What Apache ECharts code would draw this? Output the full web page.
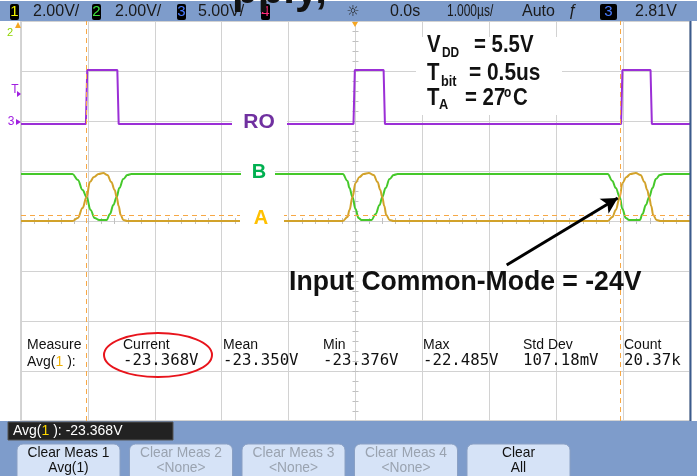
<!DOCTYPE html>
<html>
<head>
<meta charset="utf-8">
<script src="https://cdn.jsdelivr.net/npm/echarts@6/dist/echarts.min.js"></script>
<style>
  html, body { margin: 0; padding: 0; background: #fff; }
  #chart { width: 697px; height: 476px; }
</style>
</head>
<body>
<div id="chart"></div>
<script>
// time in us (0 = trigger / screen centre), level in screen divisions from the centre line
const roPoints = [
  [-5, 1.94], [-4.62, 1.94], [-4.6, 1.98], [-4.58, 1.94], [-4.03, 1.94], [-4.01, 3.02],
  [-3.8, 3.02], [-3.78, 2.98], [-3.75, 3.02], [-3.56, 3.02], [-3.54, 1.94],
  [-2.1, 1.94], [-2.08, 1.98], [-2.06, 1.94], [-0.03, 1.94], [-0.01, 3.02],
  [0.2, 3.02], [0.22, 2.98], [0.24, 3.02], [0.42, 3.02], [0.44, 1.94],
  [2.5, 1.94], [2.52, 1.98], [2.54, 1.94], [3.97, 1.94], [3.99, 3.02],
  [4.41, 3.02], [4.43, 1.94], [5, 1.94]
]
const bPoints = [
  [-5, 0.94], [-4.23, 0.94], [-4.15, 0.82], [-4.08, 0.62], [-4.02, 0.48], [-3.96, 0.22],
  [-3.9, 0.06], [-3.83, 0.02], [-3.72, 0.02], [-3.67, 0.14], [-3.62, 0.32], [-3.57, 0.48],
  [-3.53, 0.66], [-3.47, 0.84], [-3.41, 0.92], [-3.35, 0.94],
  [-0.19, 0.94], [-0.12, 0.8], [-0.09, 0.66], [-0.045, 0.48], [0.0, 0.24], [0.045, 0.06],
  [0.09, 0.02], [0.24, 0.02], [0.3, 0.14], [0.36, 0.32], [0.4, 0.48], [0.45, 0.66],
  [0.51, 0.84], [0.57, 0.92], [0.63, 0.94],
  [3.77, 0.94], [3.84, 0.8], [3.89, 0.66], [3.95, 0.48], [3.99, 0.24], [4.04, 0.06],
  [4.09, 0.02], [4.25, 0.02], [4.29, 0.14], [4.34, 0.32], [4.39, 0.48], [4.44, 0.66],
  [4.49, 0.84], [4.55, 0.92], [4.61, 0.94], [5, 0.94]
]
const aPoints = [
  [-5, 0], [-4.23, 0], [-4.15, 0.06], [-4.08, 0.26], [-4.02, 0.48], [-3.97, 0.78],
  [-3.91, 0.88], [-3.84, 0.94], [-3.77, 0.96], [-3.71, 0.92], [-3.65, 0.78], [-3.6, 0.62],
  [-3.57, 0.48], [-3.54, 0.3], [-3.51, 0.12], [-3.47, 0.02], [-3.41, 0],
  [-0.19, 0], [-0.12, 0.08], [-0.09, 0.22], [-0.045, 0.48], [0.0, 0.76], [0.06, 0.88],
  [0.12, 0.94], [0.2, 0.96], [0.27, 0.92], [0.33, 0.78], [0.37, 0.62], [0.4, 0.48],
  [0.43, 0.3], [0.46, 0.12], [0.51, 0.02], [0.57, 0],
  [3.77, 0], [3.84, 0.08], [3.89, 0.22], [3.95, 0.48], [3.99, 0.76], [4.05, 0.88],
  [4.11, 0.94], [4.19, 0.96], [4.26, 0.92], [4.32, 0.78], [4.36, 0.62], [4.39, 0.48],
  [4.42, 0.3], [4.45, 0.12], [4.5, 0.02], [4.56, 0], [5, 0]
]
const cursorTimes = [-4.02, 3.96]
const cursorLevel = 0.12
const arrowFrom = [2.26, -0.88]
const arrowTo = [3.92, 0.46]

const scaleLabels = ['2.00V/', '2.00V/', '5.00V/']
const timeLabels = ['0.0s', '1.000µs/', 'Auto', '2.81V']
const measNames = ['Current', 'Mean', 'Min', 'Max', 'Std Dev', 'Count']
const measValues = ['-23.368V', '-23.350V', '-23.376V', '-22.485V', '107.18mV', '20.37k']
const buttons = [
  ['Clear Meas 1', 'Avg(1)', true],
  ['Clear Meas 2', '<None>', false],
  ['Clear Meas 3', '<None>', false],
  ['Clear Meas 4', '<None>', false],
  ['Clear', 'All', true]
]

const chart = echarts.init(document.getElementById('chart'))

const BAR = '#7e9ccb'
const sans = 'Liberation Sans, Arial, sans-serif'

function txt(x, y, text, o) {
  o = o || {}
  return {
    type: 'text', x: x, y: y, z: o.z || 20, scaleX: o.sx || 1,
    style: {
      text: text, fill: o.color || '#111',
      font: (o.bold ? 'bold ' : '') + (o.size || 14) + 'px ' + (o.family || sans),
      textAlign: o.align || 'left', textVerticalAlign: o.va || 'middle'
    }
  }
}
function box(x, y, w, h, fill, o) {
  o = o || {}
  return {
    type: 'rect', z: o.z || 15,
    shape: { x: x, y: y, width: w, height: h, r: o.r || 0 },
    style: { fill: fill, stroke: o.stroke || null, lineWidth: o.lw || 1 }
  }
}

const graphics = []
// top status bar (with the bottom of a cropped title above it)
graphics.push(box(0, 1, 697, 20, BAR, { z: 12 }))
graphics.push(txt(232, 12, 'pply,', { bold: true, size: 42, z: 30, va: 'bottom' }))
const badges = [[10, '1', '#f2f200'], [92, '2', '#3ee03e'], [177, '3', '#4a7cff'], [261, '4', '#ff2a7a']]
badges.forEach(b => {
  graphics.push(box(b[0], 4, 9, 16, '#000', { r: 2, z: 16 }))
  graphics.push(txt(b[0] + 4.5, 12, b[1], { color: b[2], size: 15, align: 'center', z: 17 }))
})
scaleLabels.forEach((s, i) => {
  graphics.push(txt([33, 115, 198][i], 12, s, { size: 16, color: '#1a1a1a' }))
})
graphics.push(txt(353, 12, '☼', { size: 15, align: 'center', family: 'DejaVu Sans', color: '#222' }))
graphics.push(txt(390, 12, timeLabels[0], { size: 16, color: '#1a1a1a' }))
graphics.push(txt(447, 12, timeLabels[1], { size: 16, color: '#1a1a1a', sx: 0.75 }))
graphics.push(txt(522, 12, timeLabels[2], { size: 16, color: '#1a1a1a' }))
graphics.push(txt(573, 12, 'ƒ', { size: 16, color: '#1a1a1a', align: 'center' }))
graphics.push(box(600, 4, 17, 16, '#000', { r: 2, z: 16 }))
graphics.push(txt(608.5, 12, '3', { color: '#4a7cff', size: 15, align: 'center', z: 17 }))
graphics.push(txt(635, 12, timeLabels[3], { size: 16, color: '#1a1a1a' }))

// left side markers
graphics.push(txt(10, 33, '2', { size: 11, color: '#8fd400', align: 'center' }))
graphics.push({ type: 'polygon', z: 20, shape: { points: [[15, 28], [18, 22], [21, 28]] }, style: { fill: '#f5a623' } })
graphics.push(txt(15, 90, 'T', { size: 12, color: '#a020e0', align: 'center' }))
graphics.push({ type: 'polygon', z: 20, shape: { points: [[17, 91], [21, 94], [17, 97]] }, style: { fill: '#a020e0' } })
graphics.push(txt(11, 122, '3', { size: 12, color: '#a020e0', align: 'center' }))
graphics.push({ type: 'polygon', z: 20, shape: { points: [[16, 119], [21, 122], [16, 125]] }, style: { fill: '#a020e0' } })
graphics.push({ type: 'polygon', z: 20, shape: { points: [[352, 22], [358, 22], [355, 27]] }, style: { fill: '#f5a623' } })

// annotation block
graphics.push(box(416, 37, 146, 78, '#fff', { z: 8 }))
graphics.push(txt(427, 57, 'V', { bold: true, size: 24, va: 'bottom', sx: 0.85 }))
graphics.push(txt(442, 60, 'DD', { bold: true, size: 14, va: 'bottom', sx: 0.85 }))
graphics.push(txt(474, 57, '= 5.5V', { bold: true, size: 24, va: 'bottom', sx: 0.85 }))
graphics.push(txt(427, 85, 'T', { bold: true, size: 24, va: 'bottom', sx: 0.85 }))
graphics.push(txt(441, 89, 'bit', { bold: true, size: 15, va: 'bottom', sx: 0.85 }))
graphics.push(txt(469, 85, '= 0.5us', { bold: true, size: 24, va: 'bottom', sx: 0.87 }))
graphics.push(txt(427, 110, 'T', { bold: true, size: 24, va: 'bottom', sx: 0.85 }))
graphics.push(txt(439, 112, 'A', { bold: true, size: 15, va: 'bottom', sx: 0.85 }))
graphics.push(txt(465, 110, '= 27', { bold: true, size: 24, va: 'bottom', sx: 0.85 }))
graphics.push(txt(504, 100, 'o', { bold: true, size: 14, va: 'bottom', sx: 0.85 }))
graphics.push(txt(513, 110, 'C', { bold: true, size: 24, va: 'bottom', sx: 0.85 }))

// trace labels
graphics.push(box(232, 111, 55, 22, '#fff', { z: 9 }))
graphics.push(txt(259, 122, 'RO', { bold: true, size: 21, color: '#7030a0', align: 'center' }))
graphics.push(box(241, 161, 34, 22, '#fff', { z: 9 }))
graphics.push(txt(259, 172, 'B', { bold: true, size: 20, color: '#00b050', align: 'center' }))
graphics.push(box(240, 206, 44, 24, '#fff', { z: 9 }))
graphics.push(txt(261, 218, 'A', { bold: true, size: 20, color: '#ffc000', align: 'center' }))

graphics.push(txt(289, 282, 'Input Common-Mode = -24V', { bold: true, size: 28, sx: 0.95 }))

// measurement row
graphics.push(txt(27, 345, 'Measure', { size: 14 }))
graphics.push({
  type: 'text', x: 27, y: 362, z: 20,
  style: {
    text: '{a|Avg(}{b|1}{a| ):}', textVerticalAlign: 'middle',
    rich: { a: { font: '14px ' + sans, fill: '#111' }, b: { font: '14px ' + sans, fill: '#f0b000' } }
  }
})
measNames.forEach((n, i) => {
  const x = [123, 223, 323, 423, 523, 624][i]
  graphics.push(txt(x, 345, n, { size: 14 }))
  graphics.push(txt(x, 361, measValues[i], { size: 16, family: 'DejaVu Sans Mono', sx: 0.98 }))
})
graphics.push({ type: 'ellipse', z: 22, shape: { cx: 158, cy: 355, rx: 54, ry: 22 }, style: { fill: null, stroke: '#e8141c', lineWidth: 2 } })

// bottom soft-key panel
graphics.push(box(0, 421, 697, 55, BAR, { z: 12 }))
graphics.push(box(690, 21, 7, 400, '#fff', { z: 12 }))
graphics.push({ type: 'line', z: 13, shape: { x1: 690.5, y1: 21, x2: 690.5, y2: 421 }, style: { stroke: '#3b5a8c', lineWidth: 2 } })
graphics.push(box(8, 422, 165, 18, '#222', { z: 14, stroke: '#555' }))
graphics.push({
  type: 'text', x: 13, y: 431, z: 20,
  style: {
    text: '{a|Avg(}{b|1}{a| ): -23.368V}', textVerticalAlign: 'middle',
    rich: { a: { font: '14px ' + sans, fill: '#fff' }, b: { font: '14px ' + sans, fill: '#ffd800' } }
  }
})
buttons.forEach((b, i) => {
  const x = 17 + i * 112.5
  graphics.push(box(x, 444, 103, 40, '#d6e3f7', { z: 14, r: 6, stroke: '#8aa0c4' }))
  const c = b[2] ? '#111' : '#9aa3b0'
  graphics.push(txt(x + 51.5, 453, b[0], { size: 15, color: c, align: 'center', sx: 0.92 }))
  graphics.push(txt(x + 51.5, 468, b[1], { size: 15, color: c, align: 'center', sx: 0.92 }))
})

const gridLine = { lineStyle: { color: '#d2d2d2', width: 1 } }

chart.setOption({
  animation: false,
  backgroundColor: '#fff',
  grid: { left: 21, top: 21, width: 669, height: 400, show: true, borderColor: '#a9a9a9', borderWidth: 1 },
  xAxis: [
    {
      type: 'value', min: -5, max: 5, interval: 1,
      axisLine: { onZero: true, lineStyle: { color: '#d2d2d2' } },
      axisTick: { show: true, length: 3, lineStyle: { color: '#c0c0c0' } },
      minorTick: { show: true, splitNumber: 5, length: 3, lineStyle: { color: '#c0c0c0' } },
      axisLabel: { show: false }, splitLine: gridLine
    },
    {
      type: 'value', min: -5, max: 5, interval: 1, position: 'top',
      axisLine: { onZero: true, lineStyle: { color: '#d2d2d2' } },
      axisTick: { show: true, length: 3, lineStyle: { color: '#c0c0c0' } },
      minorTick: { show: true, splitNumber: 5, length: 3, lineStyle: { color: '#c0c0c0' } },
      axisLabel: { show: false }, splitLine: { show: false }
    }
  ],
  yAxis: [
    {
      type: 'value', min: -4, max: 4, interval: 1,
      axisLine: { onZero: true, lineStyle: { color: '#d2d2d2' } },
      axisTick: { show: true, length: 3, lineStyle: { color: '#c0c0c0' } },
      minorTick: { show: true, splitNumber: 5, length: 3, lineStyle: { color: '#c0c0c0' } },
      axisLabel: { show: false }, splitLine: gridLine
    },
    {
      type: 'value', min: -4, max: 4, interval: 1, position: 'right',
      axisLine: { onZero: true, lineStyle: { color: '#d2d2d2' } },
      axisTick: { show: true, length: 3, lineStyle: { color: '#c0c0c0' } },
      minorTick: { show: true, splitNumber: 5, length: 3, lineStyle: { color: '#c0c0c0' } },
      axisLabel: { show: false }, splitLine: { show: false }
    }
  ],
  series: [
    {
      name: 'RO', type: 'line', data: roPoints, symbol: 'none', z: 4,
      lineStyle: { color: '#9b2fd6', width: 2 }
    },
    {
      name: 'B', type: 'line', data: bPoints, symbol: 'none', z: 3,
      smooth: 0.4, smoothMonotone: 'x',
      lineStyle: { color: '#45c82a', width: 2 }
    },
    {
      name: 'A', type: 'line', data: aPoints, symbol: 'none', z: 3,
      smooth: 0.4, smoothMonotone: 'x',
      lineStyle: { color: '#d2a22a', width: 2 },
      markLine: {
        silent: true, symbol: 'none', label: { show: false },
        lineStyle: { color: '#f7a845', type: [5, 4], width: 1 },
        data: [{ xAxis: cursorTimes[0] }, { xAxis: cursorTimes[1] }, { yAxis: cursorLevel }]
      }
    },
    {
      name: 'arrow', type: 'line', data: [], symbol: 'none', z: 6,
      markLine: {
        silent: true, symbol: ['none', 'arrow'], symbolSize: [13, 16], label: { show: false },
        lineStyle: { color: '#000', type: 'solid', width: 3 },
        data: [[{ coord: arrowFrom }, { coord: arrowTo }]]
      }
    }
  ],
  graphic: graphics
})
</script>
</body>
</html>
